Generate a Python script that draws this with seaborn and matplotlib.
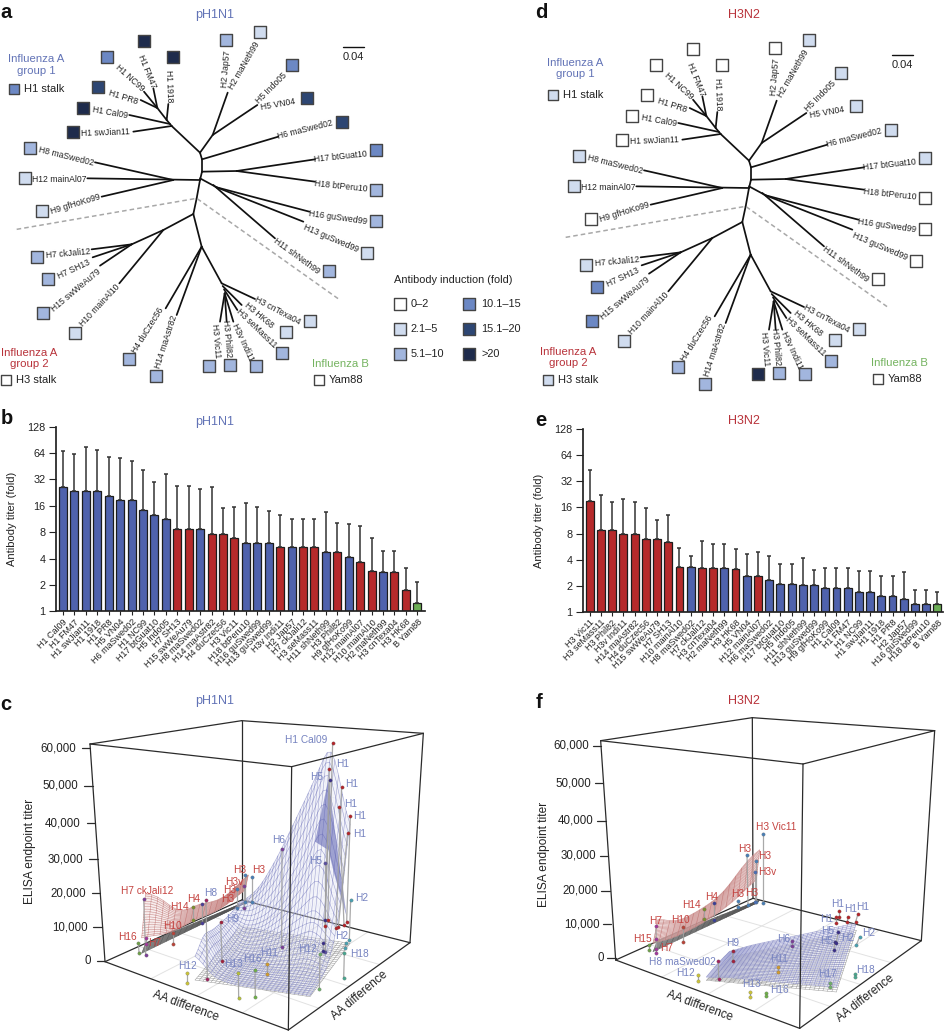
import numpy as np
import pandas as pd
import matplotlib
matplotlib.use('Agg')
import matplotlib.pyplot as plt
from matplotlib.colors import ListedColormap
import seaborn as sns

sns.set_theme(style='ticks')
plt.rcParams['font.family'] = ['Liberation Sans', 'DejaVu Sans']

W, H = 946, 1032
BLUE, RED, GREEN = '#4f62ad', '#b62a2b', '#6cae55'
T_BLUE, T_RED, T_GREEN = '#6273b6', '#b8323a', '#74b35f'
L_BLUE, L_RED = '#7683c0', '#c4423f'

# fold change classes, panel a + d
level_names = ['0–2', '2.1–5', '5.1–10', '10.1–15', '15.1–20', '>20']
level_colors = ['#ffffff', '#d0dcef', '#a2b6de', '#6c88c4', '#2d4673', '#1e2b4c']

# leaves of the tree: name, label x, label y, label angle, square x, square y
tree_leaves = [
    ('H1 swJian11', 315, 398, 2, 218, 395),
    ('H1 Cal09', 329, 339, -10, 248, 325),
    ('H1 PR8', 370, 291, -18, 295, 260),
    ('H1 NC99', 388, 233, -42, 321, 170),
    ('H1 FM47', 441, 215, -68, 432, 122),
    ('H1 1918', 508, 258, -88, 520, 172),
    ('H2 Jap57', 678, 208, 85, 679, 120),
    ('H2 maNeth99', 733, 198, 60, 779, 96),
    ('H5 Indo05', 815, 265, 45, 877, 194),
    ('H5 VN04', 835, 313, 10, 921, 295),
    ('H6 maSwed02', 915, 388, 14, 1025, 365),
    ('H17 btGuat10', 1022, 470, 6, 1127, 451),
    ('H18 btPeru10', 1023, 558, -6, 1127, 570),
    ('H16 guSwed99', 1015, 652, -8, 1128, 662),
    ('H13 guSwed99', 992, 716, -23, 1101, 759),
    ('H11 shNeth99', 890, 767, -36, 987, 813),
    ('H3 cnTexa04', 832, 931, -28, 930, 962),
    ('H3 HK68', 776, 947, -40, 857, 996),
    ('H3 seMass11', 770, 985, -44, 845, 1059),
    ('H3v Indi11', 728, 1027, -65, 767, 1097),
    ('H3 Phil82', 682, 1015, -85, 691, 1095),
    ('H3 Vic11', 647, 1022, -85, 628, 1097),
    ('H14 maAstr82', 500, 1025, 72, 469, 1128),
    ('H4 duCzec56', 444, 990, 58, 386, 1077),
    ('H10 mainAl10', 298, 917, 47, 225, 999),
    ('H15 swWeAu79', 228, 870, 40, 130, 938),
    ('H7 SH13', 222, 808, 25, 143, 838),
    ('H7 ckJali12', 203, 762, 5, 112, 770),
    ('H9 gfHoKo99', 226, 612, 17, 125, 633),
    ('H12 mainAl07', 178, 538, 0, 76, 534),
    ('H8 maSwed02', 198, 468, -14, 90, 445),
]
levels_a = [5, 5, 4, 3, 5, 5, 2, 1, 3, 4, 4, 3, 2, 2, 1, 2, 1, 1, 2, 2, 2, 2, 2, 2, 1, 2, 2, 2, 1, 1, 2]
levels_d = [0, 0, 0, 0, 0, 0, 0, 1, 1, 1, 1, 1, 0, 0, 0, 0, 1, 1, 2, 2, 2, 5, 2, 2, 1, 3, 3, 1, 0, 1, 1]

tree_edges = [
    (600, 458, 515, 378), (515, 378, 400, 395), (510, 372, 388, 345), (515, 378, 500, 360),
    (500, 360, 505, 312), (500, 360, 472, 324), (472, 324, 422, 300), (472, 324, 432, 275),
    (472, 324, 460, 265), (600, 458, 638, 405), (638, 405, 683, 278), (638, 405, 772, 315),
    (600, 458, 606, 478), (606, 478, 835, 410), (606, 478, 606, 515), (606, 515, 710, 513),
    (710, 513, 945, 478), (710, 513, 945, 545), (606, 515, 600, 540), (600, 540, 262, 535),
    (520, 540, 285, 487), (520, 540, 305, 590), (600, 535, 650, 562), (650, 562, 928, 635),
    (650, 562, 910, 665), (640, 555, 825, 715), (600, 540, 590, 595), (590, 595, 580, 642),
    (580, 642, 490, 690), (490, 690, 395, 733), (395, 733, 275, 748), (395, 733, 278, 772),
    (395, 733, 300, 797), (490, 690, 358, 850), (580, 642, 605, 740), (605, 740, 665, 850),
    (605, 740, 497, 925), (605, 740, 530, 945), (665, 850, 765, 897), (668, 858, 725, 915),
    (672, 868, 712, 930), (674, 880, 660, 965), (674, 880, 680, 965), (674, 880, 700, 965),
]
group_line_x = [50, 590, 1020]
group_line_y = [688, 595, 900]

# bars, panel b
b_strains = ['H1 Cal09', 'H1 FM47', 'H1 swJian11', 'H1 1918', 'H1 PR8', 'H5 VN04', 'H6 maSwed02', 'H1 NC99',
             'H17 btGuat10', 'H5 Indo05', 'H7 SH13', 'H15 swWeAu79', 'H8 maSwed02', 'H14 maAstr82', 'H4 duCzec56',
             'H3 Vic11', 'H18 btPeru10', 'H16 guSwed99', 'H13 guSwed99', 'H3v Indi11', 'H2 Jap57', 'H7 ckJali12',
             'H3 seMass11', 'H11 shNeth99', 'H3 Phil82', 'H9 gfHoKo99', 'H12 mainAl07', 'H10 mainAl10',
             'H2 maNeth99', 'H3 cnTexa04', 'H3 HK68', 'B Yam88']
b_titer = [26.5, 23.4, 23.4, 23.4, 20.6, 18.5, 18.5, 14.4, 12.6, 11.3, 8.7, 8.7, 8.7, 7.7, 7.7, 6.9,
           6.1, 6.1, 6.1, 5.4, 5.4, 5.4, 5.4, 4.7, 4.7, 4.2, 3.7, 2.9, 2.84, 2.84, 1.77, 1.23]
b_upper = [68.3, 63, 74.5, 68.9, 57.3, 56.3, 52, 41, 30, 37, 27, 27, 24.7, 26.5, 15.1, 15.5,
           17.1, 15.7, 14.1, 12.6, 11.4, 11.4, 11.4, 13.6, 10.1, 9.8, 9.4, 6.8, 4.9, 4.9, 3.15, 2.18]
b_group = list('bbbbbbbbbbrrbrrrbbbrbrrbrbrrbrrg')

# bars, panel e
e_strains = ['H3 Vic11', 'H3 seMass11', 'H3 Phil82', 'H3v Indi11', 'H14 maAstr82', 'H4 duCzec56', 'H15 swWeAu79',
             'H7 SH13', 'H10 mainAl10', 'H8 maSwed02', 'H7 ckJali12', 'H3 cnTexa04', 'H2 maNeth99', 'H3 HK68',
             'H5 VN04', 'H12 mainAl07', 'H6 maSwed02', 'H17 btGuat10', 'H5 Indo05', 'H11 shNeth99', 'H13 guSwed99',
             'H9 gfHoKo99', 'H1 Cal09', 'H1 FM47', 'H1 NC99', 'H1 swJian11', 'H1 1918', 'H1 PR8', 'H2 Jap57',
             'H16 guSwed99', 'H18 btPeru10', 'B Yam88']
e_titer = [19.0, 8.8, 8.8, 7.84, 7.84, 6.98, 6.98, 6.33, 3.28, 3.28, 3.23, 3.2, 3.2, 3.14, 2.61, 2.58,
           2.34, 2.09, 2.09, 2.02, 2.02, 1.89, 1.89, 1.89, 1.69, 1.69, 1.5, 1.5, 1.4, 1.24, 1.24, 1.22]
e_upper = [43.4, 22.3, 18.4, 20.1, 18.7, 15.9, 11.5, 13.2, 5.5, 4.36, 6.5, 6.1, 6.1, 5.35, 4.69, 4.94,
           4.36, 3.56, 3.56, 4.17, 3.06, 3.23, 3.23, 3.23, 2.93, 2.93, 2.61, 2.61, 2.9, 1.8, 1.8, 1.69]
e_group = list('rrrrrrrrrbrrbrbr' + 'bbbbbbbbbbbbbbb' + 'g')

bar_ticks = [1, 2, 4, 8, 16, 32, 64, 128]
titer_ticks = ['0', '10,000', '20,000', '30,000', '40,000', '50,000', '60,000']

# landscape c: box corners (left, front, right, back) floor then top
c_floor = [(315, 905), (865, 1110), (1230, 848), (725, 720)]
c_top = [(270, 252), (875, 320), (1270, 220), (725, 182)]
c_tick_x = [315, 305, 300, 293, 285, 278, 270]
c_tick_y = [902, 802, 700, 597, 490, 378, 265]
c_blue_quad = [(585, 960), (930, 1010), (720, 800), (1050, 850)]
c_blue_titer = [[7000, 1500, 300, 300, 300, 300, 300],
                [11000, 1500, 500, 500, 500, 500, 800],
                [9000, 1000, 800, 1000, 1500, 3000, 1500],
                [8000, 2000, 2500, 5000, 9000, 12000, 6000],
                [7000, 5000, 8000, 15000, 24000, 38000, 15000],
                [6600, 12000, 22000, 34000, 46000, 59000, 33000]]
c_red_quad = [(425, 880), (735, 730), (437, 850), (745, 722)]
c_red_titer = [[4500, 2500, 1500, 2500, 1500, 2000, 4000],
               [15000, 11000, 4000, 5500, 3500, 4300, 8000]]
# stems: top x, top y, foot x, foot y, colour
c_stems = [(431, 718, 437, 885, '#7b3f98'), (415, 848, 417, 878, '#6f9f4a'), (437, 835, 437, 852, '#a03a9a'),
           (518, 820, 518, 853, '#b8453a'), (578, 742, 578, 780, '#7c8f30'), (606, 732, 606, 788, '#4b3f98'),
           (618, 720, 622, 957, '#a0245f'), (735, 645, 735, 725, '#4a7fb5'), (757, 652, 757, 725, '#4a7fb5'),
           (731, 678, 731, 745, '#7b3f98'), (710, 688, 710, 745, '#4a7fb5'), (662, 785, 666, 903, '#a0243f'),
           (562, 940, 562, 970, '#c9c23a'), (715, 938, 716, 1013, '#b5bf3a'), (765, 930, 766, 1012, '#6fae4a'),
           (800, 912, 800, 943, '#d09a30'), (846, 566, 845, 860, '#7b3f98'), (990, 360, 975, 780, '#3a2f88'),
           (975, 610, 975, 875, '#5a4fa0'), (998, 248, 983, 780, '#b3262b'), (988, 326, 975, 798, '#b3262b'),
           (1025, 382, 1008, 803, '#b3262b'), (1018, 440, 1032, 795, '#b3262b'), (1051, 468, 1040, 785, '#b3262b'),
           (1043, 520, 1015, 800, '#b3262b'), (1052, 720, 1048, 840, '#4aa0b0'), (1038, 850, 1036, 865, '#4aa0b0'),
           (960, 883, 958, 986, '#6fae6a'), (968, 872, 968, 850, '#3a2f88'), (1033, 880, 1031, 955, '#4aa58f')]
c_labels = [('H1 Cal09', 918, 240, 'b'), ('H1', 1028, 313, 'b'), ('H5', 950, 352, 'b'), ('H1', 1055, 372, 'b'),
            ('H1', 1053, 432, 'b'), ('H1', 1078, 468, 'b'), ('H1', 1078, 522, 'b'), ('H6', 835, 541, 'b'),
            ('H5', 947, 603, 'b'), ('H2', 1085, 714, 'b'), ('H2', 1025, 828, 'b'), ('H18', 1077, 882, 'b'),
            ('H12', 922, 868, 'b'), ('H11', 808, 880, 'b'), ('H16', 758, 898, 'b'), ('H13', 700, 913, 'b'),
            ('H12', 563, 917, 'b'), ('H9', 698, 778, 'b'), ('H8', 633, 700, 'b'),
            ('H7 ckJali12', 441, 692, 'r'), ('H3', 718, 630, 'r'), ('H3', 775, 630, 'r'), ('H3v', 702, 665, 'r'),
            ('H3', 688, 690, 'r'), ('H3', 682, 718, 'r'), ('H4', 582, 718, 'r'), ('H14', 538, 740, 'r'),
            ('H10', 518, 798, 'r'), ('H16', 383, 830, 'r'), ('H7', 465, 848, 'r')]

# landscape f
f_floor = [(428, 900), (980, 1105), (1345, 842), (840, 715)]
f_top = [(383, 242), (990, 312), (1385, 212), (838, 173)]
f_tick_x = [428, 415, 410, 405, 398, 390, 385]
f_tick_y = [893, 793, 692, 588, 482, 370, 257]
f_blue_quad = [(700, 955), (1090, 990), (770, 885), (1150, 805)]
f_blue_titer = [[300, 800, 800, 800, 800, 800, 800],
                [800, 1200, 1200, 1200, 1200, 1200, 1200],
                [1000, 1400, 1400, 1400, 1400, 1400, 1400],
                [1000, 1500, 1500, 1500, 1500, 1500, 1500]]
f_red_quad = [(540, 875), (850, 730), (555, 840), (860, 720)]
f_red_titer = [[2500, 1200, 1200, 1500, 2500, 4000, 7000],
               [6500, 3000, 3500, 4500, 6500, 12000, 15000]]
f_stems = [(871, 521, 871, 730, '#4a7fb5'), (822, 584, 825, 735, '#4a7fb5'), (848, 604, 848, 725, '#4a7fb5'),
           (846, 637, 846, 725, '#4a6fb5'), (795, 722, 795, 742, '#4a7fb5'), (722, 730, 722, 780, '#3a3f98'),
           (692, 746, 692, 778, '#7c8f30'), (549, 798, 550, 880, '#a03a9a'), (630, 800, 630, 845, '#b8453a'),
           (529, 855, 529, 870, '#6f9f4a'), (550, 838, 550, 868, '#a03a9a'), (779, 872, 780, 902, '#a0243f'),
           (736, 902, 737, 958, '#a0245f'), (675, 944, 675, 964, '#c9c23a'), (830, 996, 830, 1010, '#c9c23a'),
           (879, 1000, 879, 1008, '#6fae4a'), (915, 920, 915, 937, '#d09a30'), (958, 843, 958, 858, '#7b3f98'),
           (1072, 968, 1072, 982, '#6fae6a'), (1145, 943, 1145, 952, '#4aa58f'), (1160, 830, 1150, 855, '#4aa0b0'),
           (1085, 845, 1083, 870, '#3a2f88'), (1095, 815, 1090, 850, '#3a2f88'), (1098, 752, 1098, 772, '#b3262b'),
           (1125, 770, 1123, 785, '#b3262b'), (1155, 762, 1148, 785, '#b3262b'), (1090, 790, 1090, 770, '#b3262b')]
f_labels = [('H3 Vic11', 910, 501, 'r'), ('H3', 815, 567, 'r'), ('H3', 875, 589, 'r'), ('H3v', 882, 635, 'r'),
            ('H3', 795, 703, 'r'), ('H3', 836, 698, 'r'), ('H4', 716, 712, 'r'), ('H14', 656, 736, 'r'),
            ('H7', 547, 782, 'r'), ('H10', 622, 781, 'r'), ('H15', 507, 837, 'r'), ('H7', 580, 865, 'r'),
            ('H9', 778, 850, 'b'), ('H8 maSwed02', 627, 905, 'b'), ('H12', 638, 940, 'b'), ('H13', 835, 973, 'b'),
            ('H16', 920, 990, 'b'), ('H11', 918, 898, 'b'), ('H6', 932, 838, 'b'), ('H17', 1063, 941, 'b'),
            ('H18', 1178, 929, 'b'), ('H2', 1188, 818, 'b'), ('H2', 1125, 835, 'b'), ('H5', 1060, 843, 'b'),
            ('H5', 1065, 812, 'b'), ('H1', 1093, 731, 'b'), ('H1', 1133, 746, 'b'), ('H1', 1168, 740, 'b'),
            ('H1', 1060, 778, 'b')]

fig = plt.figure(figsize=(W / 100, H / 100), dpi=100)


def px_axes(x0, y0, w, h):
    return fig.add_axes([x0 / W, 1 - (y0 + h) / H, w / W, h / H])


def sheet_axes(x0, y0, h3):
    # axes in 3x crop units so values can be read straight from a zoom of the figure
    ax = px_axes(x0, y0, 473, h3 / 3)
    ax.set_xlim(0, 1419)
    ax.set_ylim(h3, 0)
    ax.axis('off')
    return ax


def fig_text(x, y, s, **kw):
    fig.text(x / W, 1 - y / H, s, ha=kw.pop('ha', 'center'), va='center', **kw)


def draw_tree(ax, levels, dx=0, dy=0):
    for x0, y0, x1, y1 in tree_edges:
        ax.plot([x0 + dx, x1 + dx], [y0 + dy, y1 + dy], color='#111111', lw=1.25, solid_capstyle='round')
    ax.plot(np.array(group_line_x) + dx, np.array(group_line_y) + dy, color='#a8a8a8', lw=1.1, ls=(0, (3, 2)))
    for (name, lx, ly, rot, sx, sy), lev in zip(tree_leaves, levels):
        ax.text(lx + dx, ly + dy, name, fontsize=6.2, rotation=rot, ha='center', va='center',
                rotation_mode='anchor', color='#222222')
        ax.scatter(sx + dx, sy + dy, s=78, marker='s', color=level_colors[lev], edgecolor='#444444',
                   linewidth=1.0, clip_on=False, zorder=3)
    ax.plot([1030 + dx, 1092 + dx], [140 + dy, 140 + dy], color='#111111', lw=1.0)
    ax.text(1060 + dx, 170 + dy, '0.04', fontsize=8, ha='center', va='center', color='#222222')


def group_key(ax, blue_xy, blue_sq, red_xy, red_sq, green_xy, green_sq, blue_lev, red_lev):
    ax.text(blue_xy[0], blue_xy[1], 'Influenza A\ngroup 1', color=T_BLUE, fontsize=8.2, ha='center', va='center',
            linespacing=1.15)
    ax.scatter(*blue_sq, s=62, marker='s', color=level_colors[blue_lev], edgecolor='#444444', linewidth=1.0, clip_on=False)
    ax.text(blue_sq[0] + 29, blue_sq[1], 'H1 stalk', fontsize=8, va='center', color='#222222')
    ax.text(red_xy[0], red_xy[1], 'Influenza A\ngroup 2', color=T_RED, fontsize=8.2, ha='center', va='center',
            linespacing=1.05)
    ax.scatter(*red_sq, s=62, marker='s', color=level_colors[red_lev], edgecolor='#444444', linewidth=1.0, clip_on=False)
    ax.text(red_sq[0] + 29, red_sq[1], 'H3 stalk', fontsize=8, va='center', color='#222222')
    ax.text(green_xy[0], green_xy[1], 'Influenza B', color=T_GREEN, fontsize=8.2, ha='center', va='center')
    ax.scatter(*green_sq, s=62, marker='s', color='white', edgecolor='#444444', linewidth=1.0, clip_on=False)
    ax.text(green_sq[0] + 29, green_sq[1], 'Yam88', fontsize=8, va='center', color='#222222')


def draw_bars(ax, strains, titer, upper, group):
    pal = {'b': BLUE, 'r': RED, 'g': GREEN}
    df = pd.DataFrame({'strain': strains, 'titer': titer, 'group': group})
    sns.barplot(data=df, x='strain', y='titer', hue='group', palette=pal, dodge=False, width=0.7, saturation=1,
                edgecolor='#1c1c1c', linewidth=0.9, legend=False, ax=ax)
    up = np.array(upper) - np.array(titer)
    ax.errorbar(range(len(strains)), titer, yerr=[np.zeros(len(up)), up], fmt='none', ecolor='#333333',
                elinewidth=1.1, capsize=1.6, capthick=1.1)
    ax.set_yscale('log', base=2)
    ax.set_ylim(1, 128)
    ax.set_yticks(bar_ticks)
    ax.set_yticklabels([str(t) for t in bar_ticks], fontsize=7.8)
    ax.minorticks_off()
    ax.set_xticks(range(len(strains)))
    ax.set_xticklabels(strains, rotation=45, ha='right', rotation_mode='anchor', fontsize=6.5)
    ax.tick_params(axis='x', length=3, width=0.8, pad=1.5, color='#222222', labelcolor='#222222')
    ax.tick_params(axis='y', length=5, width=0.8, pad=2.5, color='#222222', labelcolor='#222222')
    ax.set_xlabel('')
    sns.despine(ax=ax)
    ax.spines['left'].set_color('#222222')
    ax.spines['bottom'].set_color('#222222')
    ax.patch.set_alpha(0)


def fine_heights(titer, n):
    # smooths the coarse heights, only for drawing the mesh
    titer = np.array(titer, dtype=float)
    r, c = titer.shape
    uu = np.linspace(0, 1, n)
    vv = np.linspace(0, 1, n)
    rows = np.array([np.interp(uu, np.linspace(0, 1, c), row) for row in titer])
    z = np.array([np.interp(vv, np.linspace(0, 1, r), col) for col in rows.T]).T
    kern = np.array([1, 2, 3, 2, 1]) / 9
    pad = np.pad(z, 2, mode='edge')
    pad = np.apply_along_axis(lambda a: np.convolve(a, kern, mode='same'), 0, pad)
    pad = np.apply_along_axis(lambda a: np.convolve(a, kern, mode='same'), 1, pad)
    return uu, vv, pad[2:-2, 2:-2]


def draw_sheet(ax, quad, titer, color, lw=0.4, alpha=0.55, fill=None, scale=0.0105, shift=0, n=30, zorder=3):
    uu, vv, z = fine_heights(titer, n)
    U, V = np.meshgrid(uu, vv)
    q00, q10, q01, q11 = [np.array(q, dtype=float) for q in quad]
    X = (1 - V) * ((1 - U) * q00[0] + U * q10[0]) + V * ((1 - U) * q01[0] + U * q11[0])
    Y = (1 - V) * ((1 - U) * q00[1] + U * q10[1]) + V * ((1 - U) * q01[1] + U * q11[1])
    Y = Y - z * scale + shift
    if fill:
        ax.pcolormesh(X, Y, np.zeros(X.shape), cmap=ListedColormap([fill]), alpha=0.25, shading='gouraud', zorder=zorder)
    ax.plot(X, Y, color=color, lw=lw, alpha=alpha, zorder=zorder)
    ax.plot(X.T, Y.T, color=color, lw=lw, alpha=alpha, zorder=zorder)


def draw_box_back(ax, floor, top):
    L, F, R, B = [np.array(p, dtype=float) for p in floor]
    # faint floor grid
    for t in [0.25, 0.5, 0.75]:
        a, b = L + t * (F - L), B + t * (R - B)
        ax.plot([a[0], b[0]], [a[1], b[1]], color='#e2e2e2', lw=0.7, zorder=1)
        a, b = L + t * (B - L), F + t * (R - F)
        ax.plot([a[0], b[0]], [a[1], b[1]], color='#e2e2e2', lw=0.7, zorder=1)
    for a, b in [(floor[0], floor[1]), (floor[1], floor[2]), (floor[2], floor[3]), (floor[3], floor[0]),
                 (top[3], top[0]), (top[3], top[2]), (floor[3], top[3]), (floor[0], top[0]), (floor[2], top[2])]:
        ax.plot([a[0], b[0]], [a[1], b[1]], color='#2b2b2b', lw=0.9, zorder=2)


def draw_box_front(ax, floor, top):
    for a, b in [(top[0], top[1]), (top[1], top[2]), (floor[1], top[1])]:
        ax.plot([a[0], b[0]], [a[1], b[1]], color='#2b2b2b', lw=0.9, zorder=6)


def draw_stems(ax, stems, labels):
    for tx, ty, fx, fy, col in stems:
        ax.plot([tx, fx], [ty, fy], color='#a0a0a0', lw=0.9, alpha=0.9, zorder=4)
        ax.scatter([tx, fx], [ty, fy], s=6, color=col, edgecolor='#55555588', linewidth=0.3, zorder=5)
    for name, x, y, g in labels:
        ax.text(x, y, name, color=L_BLUE if g == 'b' else L_RED, fontsize=7.3, ha='center', va='center', zorder=7)


def draw_titer_axis(ax, tick_x, tick_y, gap=43):
    for lab, x, y in zip(titer_ticks, tick_x, tick_y):
        ax.plot([x - 25, x], [y, y], color='#2b2b2b', lw=0.9, clip_on=False)
        ax.text(x - gap, y, lab, fontsize=8.3, ha='right', va='center', color='#222222')


# panel a
ax_a = sheet_axes(0, 0, 1200)
draw_tree(ax_a, levels_a)
group_key(ax_a, (108, 195), (42, 268), (88, 1075), (18, 1139), (1020, 1092), (958, 1140), 3, 0)
ax_a.text(1182, 840, 'Antibody induction (fold)', fontsize=7.9, va='center', color='#222222')
key_x = [1200, 1200, 1200, 1407, 1407, 1407]
key_y = [911, 987, 1063, 911, 987, 1063]
for lab, col, kx, ky in zip(level_names, level_colors, key_x, key_y):
    ax_a.scatter(kx, ky, s=78, marker='s', color=col, edgecolor='#444444', linewidth=1.0, clip_on=False)
    ax_a.text(kx + 32 if kx < 1300 else kx + 36, ky, lab, fontsize=7.9, va='center', color='#222222')

# panel d
ax_d = sheet_axes(473, 0, 1200)
draw_tree(ax_d, levels_d, dx=228, dy=24)
group_key(ax_d, (307, 205), (240, 284), (287, 1073), (225, 1140), (1278, 1090), (1216, 1138), 1, 1)

# panels b, e
ax_b = px_axes(55.7, 426.7, 369.3, 184.6)
draw_bars(ax_b, b_strains, b_titer, b_upper, b_group)
ax_b.set_xlim(-0.64, 31.67)
ax_b.set_ylabel('Antibody titer (fold)', fontsize=8, color='#222222')
ax_b.yaxis.set_label_coords(-0.105, 0.5)

ax_e = px_axes(583, 429.3, 360, 182.4)
draw_bars(ax_e, e_strains, e_titer, e_upper, e_group)
ax_e.set_xlim(-0.6, 31.5)
ax_e.set_ylabel('Antibody titer (fold)', fontsize=8, color='#222222')
ax_e.yaxis.set_label_coords(-0.109, 0.5)

# panel c
ax_c = sheet_axes(0, 660, 1116)
draw_box_back(ax_c, c_floor, c_top)
draw_titer_axis(ax_c, c_tick_x, c_tick_y)
flat = np.zeros((2, 2))
draw_sheet(ax_c, c_blue_quad, flat, '#808080', lw=0.35, alpha=0.8)
draw_sheet(ax_c, c_red_quad, flat, '#555555', lw=0.4, alpha=0.8, n=18)
draw_sheet(ax_c, c_blue_quad, c_blue_titer, '#6266b4', fill='#dfe1f3')
draw_sheet(ax_c, c_red_quad, c_red_titer, '#bb6c6a', alpha=0.7, fill='#f2dcdc', n=18)
ax_c.fill([945, 985, 1006, 1040, 1002, 985], [545, 360, 520, 770, 640, 570], color='#5a5fb0', alpha=0.55, lw=0, zorder=3)
draw_stems(ax_c, c_stems, c_labels)
draw_box_front(ax_c, c_floor, c_top)
ax_c.text(90, 573, 'ELISA endpoint titer', rotation=90, fontsize=8.6, ha='center', va='center', color='#222222')
ax_c.text(558, 1037, 'AA difference', rotation=-20, fontsize=8.4, ha='center', va='center', rotation_mode='anchor', color='#222222')
ax_c.text(1080, 1005, 'AA difference', rotation=40, fontsize=8.4, ha='center', va='center', rotation_mode='anchor', color='#222222')

# panel f
ax_f = sheet_axes(473, 660, 1116)
draw_box_back(ax_f, f_floor, f_top)
draw_titer_axis(ax_f, f_tick_x, f_tick_y, gap=36)
draw_sheet(ax_f, f_blue_quad, flat, '#808080', lw=0.35, alpha=0.8, shift=6)
draw_sheet(ax_f, f_red_quad, flat, '#555555', lw=0.4, alpha=0.8, n=18)
draw_sheet(ax_f, f_blue_quad, f_blue_titer, '#6266b4', fill='#dfe1f3')
draw_sheet(ax_f, f_red_quad, f_red_titer, '#bb6c6a', alpha=0.7, fill='#f2dcdc', n=18)
draw_stems(ax_f, f_stems, f_labels)
draw_box_front(ax_f, f_floor, f_top)
ax_f.text(213, 582, 'ELISA endpoint titer', rotation=90, fontsize=8.6, ha='center', va='center', color='#222222')
ax_f.text(680, 1037, 'AA difference', rotation=-20, fontsize=8.4, ha='center', va='center', rotation_mode='anchor', color='#222222')
ax_f.text(1178, 1015, 'AA difference', rotation=38, fontsize=8.4, ha='center', va='center', rotation_mode='anchor', color='#222222')

# titles + panel letters
for x, y, s, c in [(215, 15, 'pH1N1', T_BLUE), (215, 421.7, 'pH1N1', T_BLUE), (215, 700.7, 'pH1N1', T_BLUE),
                   (743.7, 15, 'H3N2', T_RED), (743.7, 421, 'H3N2', T_RED), (743.7, 700.7, 'H3N2', T_RED)]:
    fig_text(x, y, s, color=c, fontsize=9)
for x, y, s in [(6, 13, 'a'), (7, 419, 'b'), (6, 704, 'c'), (541, 13, 'd'), (541, 420, 'e'), (539, 702, 'f')]:
    fig_text(x, y, s, fontsize=14.5, fontweight='bold', color='#111111')

fig.savefig('out.png', dpi=100)
